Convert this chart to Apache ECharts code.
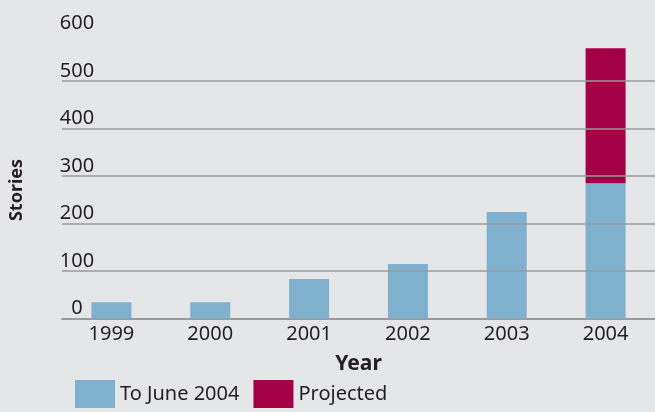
<!DOCTYPE html>
<html>
<head>
<meta charset="utf-8">
<style>
  html, body { margin: 0; padding: 0; background: #e5e6e8; }
  #chart { width: 655px; height: 412px; }
</style>
<script src="https://cdn.jsdelivr.net/npm/echarts@6/dist/echarts.min.js"></script>
</head>
<body>
<div id="chart"></div>
<script>
'use strict';

/* ── data ── */
const years     = ['1999', '2000', '2001', '2002', '2003', '2004'];
const toJune    = [34, 34, 83, 115, 224, 285];
const projected = [null, null, null, null, null, 284];
const gridLines = [100, 200, 300, 400, 500];

const FONT = "'Noto Sans', 'Open Sans', sans-serif";
const TEXT = '#231f20';

const chart = echarts.init(document.getElementById('chart'), null, { renderer: 'canvas' });

chart.setOption({
  backgroundColor: '#e5e6e8',
  animation: false,
  textStyle: { fontFamily: FONT, color: TEXT },
  grid: { left: 62, right: 0, top: 33.5, bottom: 93.5 },
  legend: {
    left: 75,
    top: 380,
    padding: 0,
    itemWidth: 40,
    itemHeight: 28,
    itemGap: 14,
    icon: 'rect',
    textStyle: { fontFamily: FONT, fontSize: 20, color: TEXT },
    data: ['To June 2004', 'Projected']
  },
  graphic: [{
    type: 'text',
    rotation: Math.PI / 2,
    x: 8,
    y: 190,
    style: {
      text: 'Stories',
      font: 'bold 18px ' + FONT,
      fill: TEXT,
      align: 'center',
      verticalAlign: 'top'
    }
  }],
  xAxis: {
    type: 'category',
    data: years,
    name: 'Year',
    nameLocation: 'middle',
    nameGap: 35,
    nameTextStyle: { fontFamily: FONT, fontSize: 21, fontWeight: 'bold', color: TEXT },
    axisLine: { lineStyle: { color: '#999a9c', width: 2 } },
    axisTick: { show: false },
    axisLabel: { fontFamily: FONT, fontSize: 20, color: TEXT, margin: 6 }
  },
  yAxis: {
    type: 'value',
    min: 0,
    max: 600,
    interval: 100,
    axisLine: { show: false },
    axisTick: { show: false },
    splitLine: { show: false },
    axisLabel: {
      fontFamily: FONT, fontSize: 20, color: TEXT,
      align: 'center', verticalAlign: 'bottom', margin: -15
    }
  },
  series: [
    {
      name: 'To June 2004',
      type: 'bar',
      stack: 'total',
      data: toJune,
      barWidth: 40,
      itemStyle: { color: '#7fb1cf' },
      markLine: {
        silent: true,
        symbol: 'none',
        label: { show: false },
        lineStyle: { color: '#9a9b9d', width: 1.5, type: 'solid' },
        data: gridLines.map(v => ({ yAxis: v }))
      },
      z: 3
    },
    {
      name: 'Projected',
      type: 'bar',
      stack: 'total',
      data: projected,
      barWidth: 40,
      itemStyle: { color: '#a30046' },
      z: 3
    }
  ]
});
</script>
</body>
</html>
